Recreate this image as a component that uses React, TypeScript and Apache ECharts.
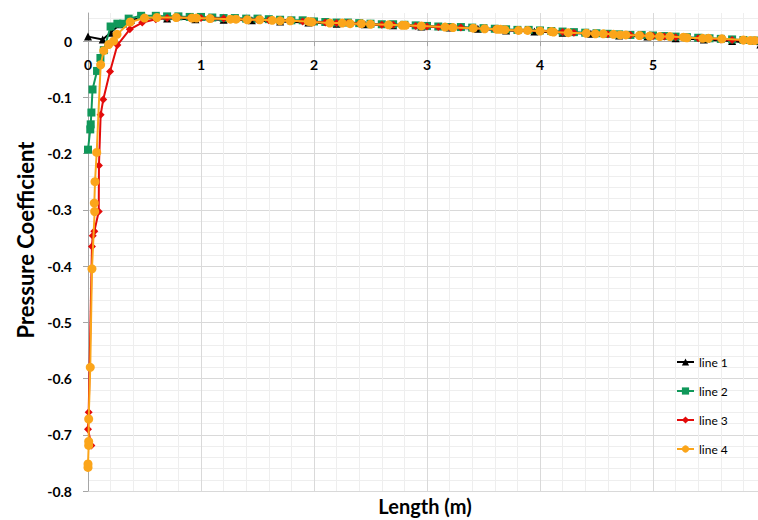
import React, { useEffect, useRef } from "react";
import * as echarts from "echarts";

// ---- data ----
const line1X = [0, 0.13, 0.2, 0.28, 0.38, 0.5, 0.7, 0.95, 1.2, 1.45, 1.7, 1.95, 2.2, 2.45, 2.7, 2.95, 3.2, 3.45, 3.7, 3.95, 4.2, 4.45, 4.7, 4.95, 5.2, 5.45, 5.7, 5.95];
const line1Y = [0.008, 0.003, 0.015, 0.03, 0.038, 0.041, 0.04, 0.039, 0.038, 0.037, 0.035, 0.033, 0.031, 0.03, 0.028, 0.026, 0.024, 0.022, 0.019, 0.017, 0.015, 0.013, 0.01, 0.008, 0.005, 0.003, 0.0, -0.006];

const line2X = [0, 0.02, 0.024, 0.03, 0.04, 0.08, 0.11, 0.14, 0.2, 0.26, 0.31, 0.36, 0.47, 0.6, 0.7, 0.8, 0.9, 1.0, 1.1, 1.2, 1.3, 1.4, 1.5, 1.6, 1.7, 1.8, 1.9, 2.0, 2.1, 2.2, 2.3, 2.4, 2.5, 2.6, 2.7, 2.8, 2.9, 3.0, 3.1, 3.2, 3.3, 3.4, 3.5, 3.6, 3.7, 3.8, 3.9, 4.0, 4.1, 4.2, 4.3, 4.4, 4.5, 4.6, 4.7, 4.8, 4.9, 5.0, 5.1, 5.2, 5.3, 5.4, 5.5, 5.6, 5.7, 5.8, 5.9];
const line2Y = [-0.193, -0.157, -0.148, -0.127, -0.086, -0.053, -0.03, -0.016, 0.026, 0.031, 0.031, 0.04, 0.045, 0.045, 0.044, 0.044, 0.043, 0.043, 0.042, 0.041, 0.041, 0.04, 0.04, 0.039, 0.038, 0.037, 0.037, 0.035, 0.034, 0.033, 0.033, 0.032, 0.031, 0.03, 0.03, 0.029, 0.028, 0.027, 0.026, 0.025, 0.025, 0.024, 0.023, 0.022, 0.021, 0.02, 0.02, 0.019, 0.018, 0.017, 0.016, 0.015, 0.014, 0.013, 0.012, 0.011, 0.011, 0.01, 0.009, 0.008, 0.007, 0.006, 0.005, 0.004, 0.003, 0.002, 0.001];

const line3X = [0.03, 0.0, 0.006, 0.035, 0.042, 0.056, 0.095, 0.097, 0.112, 0.135, 0.195, 0.26, 0.37, 0.48, 0.6, 0.7, 0.8, 0.9, 1.0, 1.1, 1.2, 1.3, 1.4, 1.5, 1.6, 1.7, 1.8, 1.9, 2.0, 2.1, 2.2, 2.3, 2.4, 2.5, 2.6, 2.7, 2.8, 2.9, 3.0, 3.1, 3.2, 3.3, 3.4, 3.5, 3.6, 3.7, 3.8, 3.9, 4.0, 4.1, 4.2, 4.3, 4.4, 4.5, 4.6, 4.7, 4.8, 4.9, 5.0, 5.1, 5.2, 5.3, 5.4, 5.5, 5.6, 5.7, 5.8, 5.95];
const line3Y = [-0.719, -0.69, -0.66, -0.365, -0.346, -0.338, -0.303, -0.221, -0.131, -0.104, -0.054, -0.007, 0.021, 0.033, 0.039, 0.041, 0.042, 0.041, 0.041, 0.04, 0.04, 0.039, 0.039, 0.038, 0.037, 0.037, 0.036, 0.035, 0.034, 0.033, 0.032, 0.032, 0.031, 0.03, 0.029, 0.029, 0.028, 0.027, 0.026, 0.025, 0.024, 0.024, 0.023, 0.022, 0.021, 0.02, 0.019, 0.019, 0.018, 0.017, 0.016, 0.015, 0.014, 0.013, 0.012, 0.011, 0.011, 0.01, 0.009, 0.008, 0.007, 0.006, 0.005, 0.004, 0.003, 0.002, 0.001, 0.0];

const line4X = [0, 0, 0.006, 0.006, 0.006, 0.02, 0.035, 0.059, 0.056, 0.062, 0.077, 0.112, 0.139, 0.183, 0.227, 0.257, 0.374, 0.5, 0.61, 0.78, 0.92, 0.96, 1.08, 1.26, 1.31, 1.41, 1.52, 1.63, 1.7, 1.79, 1.95, 1.98, 2.14, 2.25, 2.32, 2.42, 2.5, 2.66, 2.78, 2.81, 2.95, 3.16, 3.23, 3.41, 3.51, 3.62, 3.65, 3.69, 3.81, 3.89, 4.0, 4.1, 4.12, 4.25, 4.41, 4.49, 4.56, 4.65, 4.71, 4.76, 4.88, 4.97, 5.06, 5.15, 5.27, 5.3, 5.44, 5.49, 5.61, 5.8, 5.86, 5.9];
const line4Y = [-0.758, -0.752, -0.719, -0.712, -0.672, -0.58, -0.405, -0.303, -0.288, -0.25, -0.198, -0.042, -0.017, -0.006, 0.0, 0.012, 0.034, 0.041, 0.042, 0.042, 0.041, 0.041, 0.04, 0.039, 0.039, 0.038, 0.038, 0.037, 0.036, 0.036, 0.035, 0.034, 0.032, 0.032, 0.031, 0.031, 0.03, 0.029, 0.028, 0.028, 0.027, 0.025, 0.024, 0.023, 0.022, 0.021, 0.021, 0.02, 0.019, 0.019, 0.018, 0.017, 0.016, 0.015, 0.014, 0.013, 0.013, 0.012, 0.011, 0.011, 0.01, 0.009, 0.008, 0.008, 0.007, 0.006, 0.005, 0.005, 0.004, 0.002, 0.001, 0.001];

const seriesNames = ["line 1", "line 2", "line 3", "line 4"];
const seriesColors = ["#000000", "#10985a", "#e30b0b", "#fba51a"];
const seriesSymbols = ["triangle", "rect", "diamond", "circle"];
const seriesSizes = [8, 8, 8, 9];
const xTitle = "Length (m)";
const yTitle = "Pressure Coefficient";

const zip = (xs: number[], ys: number[]) => xs.map((x, i) => [x, ys[i]]);

const Y_MIN = -0.8;
const Y_MAX = 0.05;
const GRID_TOP = 13;
const GRID_BOTTOM = 29;
const H = 520;

export default function App() {
  const ref = useRef<HTMLDivElement>(null);
  useEffect(() => {
    if (!ref.current) return;
    const chart = echarts.init(ref.current, null, { renderer: "svg" });
    const datasets = [zip(line1X, line1Y), zip(line2X, line2Y), zip(line3X, line3Y), zip(line4X, line4Y)];
    const font = "Lato";
    const plotH = H - GRID_TOP - GRID_BOTTOM;
    // move the x axis (line + labels) up from the bottom of the grid to the y = 0 line
    const zeroOffset = -plotH * (0 - Y_MIN) / (Y_MAX - Y_MIN);
    chart.setOption({
      animation: false,
      backgroundColor: "#ffffff",
      grid: { left: 88, top: GRID_TOP, right: -8, bottom: GRID_BOTTOM, containLabel: false, outerBoundsMode: "none" },
      legend: {
        orient: "vertical",
        left: 671,
        top: 351,
        itemGap: 17,
        itemWidth: 17,
        itemHeight: 9,
        textStyle: { fontSize: 12, color: "#000", fontFamily: font },
        data: seriesNames,
      },
      xAxis: {
        type: "value",
        position: "bottom",
        offset: zeroOffset,
        min: 0,
        max: 6,
        interval: 1,
        axisLine: { show: true, onZero: false, lineStyle: { color: "#a6a6a6", width: 1 } },
        axisTick: { show: true, length: 5, lineStyle: { color: "#a6a6a6" } },
        axisLabel: {
          margin: 16,
          fontSize: 14,
          fontWeight: "bold",
          fontFamily: font,
          color: "#000",
          showMaxLabel: false,
          formatter: (v: number) => String(Math.round(v)),
        },
        splitLine: { show: true, lineStyle: { color: "#d9d9d9", width: 1 } },
        minorTick: { show: false, splitNumber: 5 },
        minorSplitLine: { show: true, lineStyle: { color: "#eeeeee", width: 1 } },
      },
      yAxis: {
        type: "value",
        min: Y_MIN,
        max: Y_MAX,
        interval: 0.1,
        axisLine: { show: true, lineStyle: { color: "#a6a6a6", width: 1 } },
        axisTick: { show: true, length: 5, lineStyle: { color: "#a6a6a6" } },
        axisLabel: {
          margin: 16,
          fontSize: 14,
          fontWeight: "bold",
          fontFamily: font,
          color: "#000",
          showMaxLabel: false,
          formatter: (v: number) => (Math.abs(v) < 1e-9 ? "0" : v.toFixed(1)),
        },
        splitLine: { show: true, showMaxLine: false, lineStyle: { color: "#d9d9d9", width: 1 } },
        minorTick: { show: false, splitNumber: 5 },
        minorSplitLine: { show: true, lineStyle: { color: "#eeeeee", width: 1 } },
      },
      graphic: [
        {
          type: "text",
          x: 25,
          y: 240,
          rotation: Math.PI / 2,
          style: {
            text: yTitle,
            font: `bold 22px ${font}`,
            fill: "#000",
            align: "center",
            verticalAlign: "middle",
            textAlign: "center",
            textVerticalAlign: "middle",
          },
        },
        {
          type: "text",
          x: 425,
          y: 506,
          style: {
            text: xTitle,
            font: `bold 20px ${font}`,
            fill: "#000",
            align: "center",
            verticalAlign: "middle",
            textAlign: "center",
            textVerticalAlign: "middle",
          },
        },
      ],
      series: datasets.map((d, i) => ({
        name: seriesNames[i],
        type: "line",
        data: d,
        symbol: seriesSymbols[i],
        symbolSize: seriesSizes[i],
        showAllSymbol: true,
        clip: true,
        lineStyle: { color: seriesColors[i], width: 2 },
        itemStyle: { color: seriesColors[i], borderWidth: 0 },
        z: 2 + i,
      })),
    });
    return () => chart.dispose();
  }, []);
  return <div ref={ref} style={{ position: "absolute", left: 0, top: 0, width: 758, height: 520 }} />;
}
